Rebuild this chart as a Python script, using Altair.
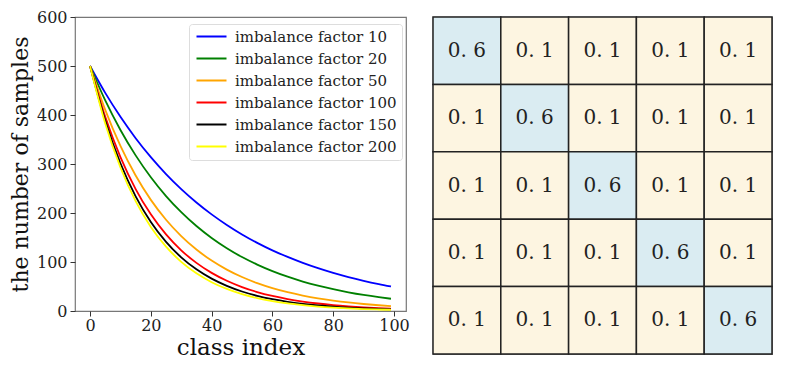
import altair as alt
import pandas as pd

class_index = [0, 5, 10, 15, 20, 25, 30, 35, 40, 45, 50, 55, 60, 65, 70, 75, 80, 85, 90, 95, 99]
if10 = [500, 445.1, 396.2, 352.7, 314.0, 279.5, 248.8, 221.5, 197.2, 175.6, 156.3, 139.1, 123.8, 110.3, 98.2, 87.4, 77.8, 69.3, 61.7, 54.9, 50]
if20 = [500, 429.8, 369.5, 317.6, 273.0, 234.6, 201.7, 173.4, 149.0, 128.1, 110.1, 94.7, 81.4, 70.0, 60.1, 51.7, 44.4, 38.2, 32.8, 28.2, 25]
if50 = [500, 410.4, 336.8, 276.4, 226.8, 186.2, 152.8, 125.4, 102.9, 84.5, 69.3, 56.9, 46.7, 38.3, 31.5, 25.8, 21.2, 17.4, 14.3, 11.7, 10]
if100 = [500, 396.2, 314.0, 248.8, 197.2, 156.3, 123.8, 98.2, 77.8, 61.7, 48.9, 38.7, 30.7, 24.3, 19.3, 15.3, 12.1, 9.6, 7.6, 6.0, 5]
if150 = [500, 388.2, 301.4, 234.0, 181.7, 141.1, 109.5, 85.0, 66.0, 51.3, 39.8, 30.9, 24.0, 18.6, 14.5, 11.2, 8.7, 6.8, 5.3, 4.1, 3.3]
if200 = [500, 382.6, 292.8, 224.1, 171.5, 131.2, 100.4, 76.8, 58.8, 45.0, 34.4, 26.3, 20.2, 15.4, 11.8, 9.0, 6.9, 5.3, 4.0, 3.1, 2.5]

series_names = ["imbalance factor 10", "imbalance factor 20", "imbalance factor 50",
                "imbalance factor 100", "imbalance factor 150", "imbalance factor 200"]
series_values = [if10, if20, if50, if100, if150, if200]
series_colors = ["#0000ff", "#008000", "#ffa500", "#ff0000", "#000000", "#ffff00"]

matrix_rows = [
    [0.6, 0.1, 0.1, 0.1, 0.1],
    [0.1, 0.6, 0.1, 0.1, 0.1],
    [0.1, 0.1, 0.6, 0.1, 0.1],
    [0.1, 0.1, 0.1, 0.6, 0.1],
    [0.1, 0.1, 0.1, 0.1, 0.6],
]
cell_colors = {0.1: "#fdf5e1", 0.6: "#daecf2"}

FONT = "DejaVu Serif"

rows = []
for name, vals in zip(series_names, series_values):
    for x, y in zip(class_index, vals):
        rows.append({"series": name, "x": x, "y": y})
df = pd.DataFrame(rows)

lines = alt.Chart(df).mark_line(strokeWidth=1.8, interpolate="monotone", clip=True).encode(
    x=alt.X("x:Q", title="class index",
            scale=alt.Scale(domain=[-4.95, 103.95], nice=False, zero=False),
            axis=alt.Axis(values=[0, 20, 40, 60, 80, 100], grid=False, labelFontSize=16,
                          titleFontSize=23, labelFont=FONT, titleFont=FONT, titleFontWeight="normal",
                          domain=False, tickColor="#333", tickSize=5, labelColor="#222",
                          titleColor="#111", titlePadding=3, labelPadding=1)),
    y=alt.Y("y:Q", title="the number of samples",
            scale=alt.Scale(domain=[0, 600], nice=False),
            axis=alt.Axis(values=[0, 100, 200, 300, 400, 500, 600], grid=False, labelFontSize=16,
                          titleFontSize=22, labelFont=FONT, titleFont=FONT, titleFontWeight="normal",
                          domain=False, tickColor="#333", tickSize=5, labelColor="#222",
                          titleColor="#111", titlePadding=4, labelPadding=3)),
    color=alt.Color("series:N", sort=series_names,
                    scale=alt.Scale(domain=series_names, range=series_colors),
                    legend=alt.Legend(title=None, orient="none", legendX=114, legendY=7,
                                      labelFont=FONT, labelFontSize=15, labelColor="#222",
                                      symbolType="M-1,0H5", symbolSize=100, symbolStrokeWidth=2,
                                      rowPadding=6, padding=5, strokeColor="#dddddd",
                                      fillColor="white", cornerRadius=3, labelOffset=26,
                                      labelLimit=300)),
).properties(width=331, height=294)

hm_rows = []
for r, row in enumerate(matrix_rows):
    for c, v in enumerate(row):
        hm_rows.append({"row": r, "col": c, "value": v,
                        "label": f"0. {int(round(v * 10))}", "fillcol": cell_colors[v]})
hdf = pd.DataFrame(hm_rows)

base = alt.Chart(hdf).encode(
    x=alt.X("col:O", axis=None, scale=alt.Scale(paddingInner=0, paddingOuter=0)),
    y=alt.Y("row:O", axis=None, scale=alt.Scale(paddingInner=0, paddingOuter=0)),
)
cells = base.mark_rect(stroke="#222", strokeWidth=1.5).encode(
    fill=alt.Fill("fillcol:N", scale=None)
)
texts = base.mark_text(font=FONT, fontSize=20, color="#222").encode(text="label:N")
heat = (cells + texts).properties(width=339, height=337)

chart = alt.hconcat(lines, heat, spacing=21).resolve_scale(color="independent").properties(
    padding={"left": 0, "top": 0, "right": 0, "bottom": 0}
).configure_view(stroke="#777", strokeWidth=1.2)

chart.save("out.html", embed_options={"renderer": "svg", "actions": False})
